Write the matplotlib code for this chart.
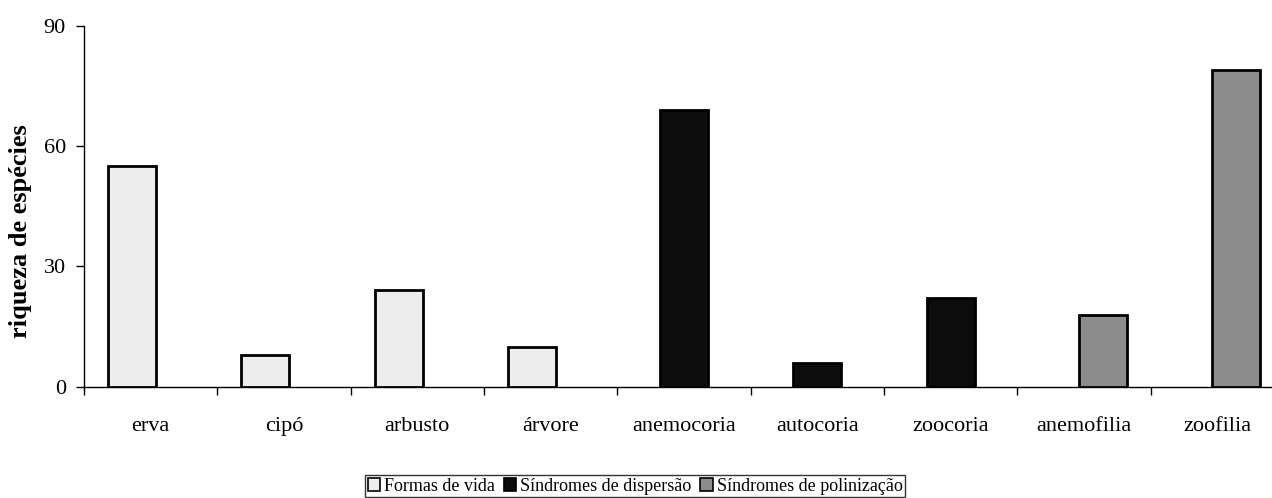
import numpy as np
import matplotlib.pyplot as plt
from matplotlib.patches import Patch

# Data
categories = ['erva', 'cipó', 'arbusto', 'árvore', 'anemocoria',
              'autocoria', 'zoocoria', 'anemofilia', 'zoofilia']
values = [55, 8, 24, 10, 69, 6, 22, 18, 79]
groups = [0, 0, 0, 0, 1, 1, 1, 2, 2]
group_names = ['Formas de vida', 'Síndromes de dispersão', 'Síndromes de polinização']
yticks = [0, 30, 60, 90]

plt.rcParams['font.family'] = ['Liberation Serif', 'DejaVu Serif']

group_colors = ['#ededed', '#0c0c0c', '#8c8c8c']
group_offsets = [-0.14, 0.0, 0.14]
bar_width = 0.36

fig = plt.figure(figsize=(12.72, 4.98), dpi=100)
ax = fig.add_axes([84 / 1272, (498 - 386.7) / 498, 1200 / 1272, 361 / 498])

x = np.arange(len(categories))
for i in range(len(categories)):
    g = groups[i]
    ax.bar(x[i] + group_offsets[g], values[i], width=bar_width,
           color=group_colors[g], edgecolor='black', linewidth=2.0, zorder=3)

ax.set_xlim(-0.5, len(categories) - 0.5)
ax.set_ylim(0, 90)
ax.set_yticks(yticks)
ax.set_yticklabels([str(v) for v in yticks], fontsize=16)

# category labels at centres, tick marks at category boundaries
ax.set_xticks(np.arange(len(categories) + 1) - 0.5)
ax.set_xticklabels([])
ax.set_xticks(x, minor=True)
ax.set_xticklabels(categories, minor=True, fontsize=16)
ax.tick_params(axis='x', which='minor', length=0, pad=22)
ax.tick_params(axis='x', which='major', length=6, width=1, direction='out')
ax.tick_params(axis='y', length=6, width=1, direction='out', pad=7)

ax.set_ylabel('riqueza de espécies', fontsize=19, fontweight='bold')
ax.yaxis.set_label_coords(-0.043, 0.43)

ax.spines['top'].set_visible(False)
ax.spines['right'].set_visible(False)
ax.spines['left'].set_linewidth(1)
ax.spines['bottom'].set_linewidth(1)

handles = [Patch(facecolor=c, edgecolor='black', linewidth=1.2) for c in group_colors]
leg = fig.legend(handles, group_names, loc='center', ncol=3,
                 bbox_to_anchor=(635 / 1272, 12 / 498), fontsize=13,
                 frameon=True, fancybox=False, handlelength=0.7, handleheight=0.7,
                 handletextpad=0.2, columnspacing=0.5, borderpad=0.15,
                 borderaxespad=0)
leg.get_frame().set_edgecolor('black')
leg.get_frame().set_linewidth(1)

fig.savefig('out.png', dpi=100)
